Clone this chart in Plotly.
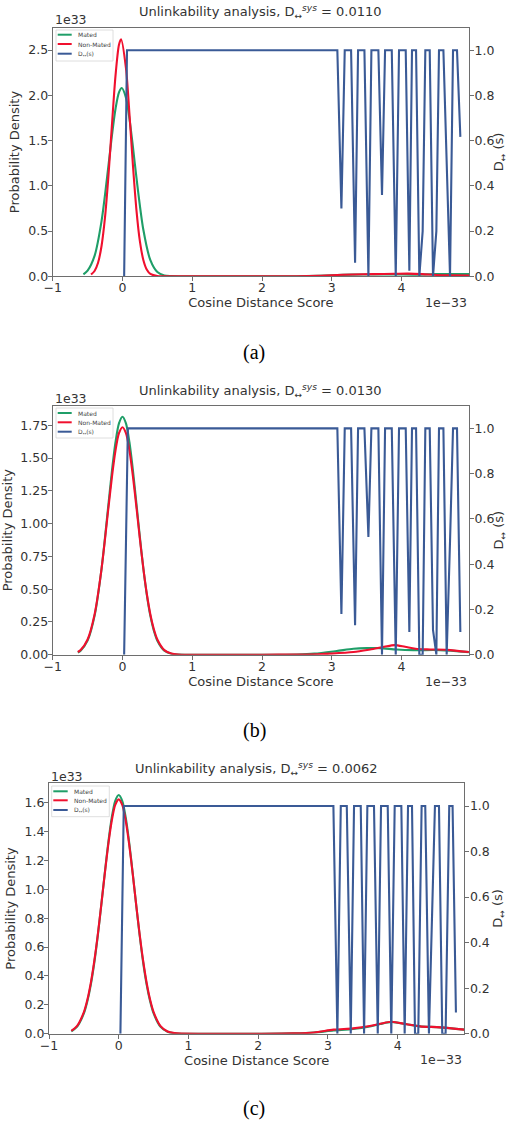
import plotly.graph_objects as go

W, H = 508, 1121

# ---------------- data (x in units of 1e-33, density in units of 1e33) ----------------
# Panel (a)  D_sys = 0.0110
mated_a_x = [-0.56, -0.5, -0.4, -0.3, -0.2, -0.15, -0.1, -0.05, -0.01, 0.05, 0.1, 0.15, 0.2, 0.3, 0.4, 0.5,
             0.6, 0.7, 0.9, 1.5, 2.0, 2.5, 2.8, 3.0, 3.3, 3.6, 3.9, 4.2, 4.5, 4.8, 4.967]
mated_a_y = [0.022, 0.062, 0.225, 0.609, 1.228, 1.562, 1.849, 2.032, 2.08, 1.974, 1.743, 1.431, 1.092, 0.511,
             0.178, 0.047, 0.009, 0.002, 0.0, 0.0, 0.0, 0.001, 0.006, 0.012, 0.018, 0.02, 0.02, 0.019, 0.024,
             0.026, 0.024]
nonmated_a_x = [-0.45, -0.4, -0.35, -0.3, -0.25, -0.2, -0.15, -0.1, -0.05, -0.02, 0.05, 0.1, 0.15, 0.2, 0.25,
                0.3, 0.35, 0.4, 0.5, 0.6, 1.5, 2.0, 2.5, 2.8, 3.0, 3.3, 3.6, 3.9, 4.1, 4.3, 4.5, 4.7, 4.967]
nonmated_a_y = [0.020, 0.059, 0.150, 0.335, 0.653, 1.12, 1.681, 2.215, 2.559, 2.62, 2.30, 1.795, 1.227, 0.735,
                0.386, 0.178, 0.072, 0.026, 0.002, 0.0, 0.0, 0.0, 0.001, 0.005, 0.012, 0.02, 0.024, 0.028, 0.03,
                0.024, 0.014, 0.01, 0.008]
dsys_a_x = [0.024, 0.065, 3.08, 3.138, 3.186, 3.277, 3.334, 3.377, 3.468, 3.525, 3.568, 3.668, 3.72, 3.764,
            3.86, 3.917, 3.964, 4.06, 4.112, 4.15, 4.208, 4.255, 4.303, 4.341, 4.404, 4.451, 4.499, 4.537, 4.6,
            4.695, 4.738, 4.795, 4.843]
dsys_a_y = [0, 1, 1, 0.30, 1, 1, 0.06, 1, 1, 0, 1, 1, 0.36, 1, 1, 0, 1, 1, 0.025, 1, 1, 0, 0.2, 1, 1, 0, 0.2,
            1, 1, 0, 1, 1, 0.617]

# Panel (b)  D_sys = 0.0130
mated_b_x = [-0.64, -0.6, -0.5, -0.4, -0.3, -0.2, -0.15, -0.1, -0.05, 0.0, 0.05, 0.1, 0.15, 0.2, 0.25, 0.3,
             0.35, 0.4, 0.45, 0.5, 0.6, 0.7, 0.8, 1.5, 2.0, 2.5, 2.75, 3.07, 3.31, 3.5, 3.69, 3.93, 4.17, 4.55,
             4.965]
mated_b_y = [0.017, 0.031, 0.107, 0.296, 0.655, 1.153, 1.406, 1.620, 1.764, 1.815, 1.764, 1.620, 1.406, 1.153,
             0.894, 0.655, 0.453, 0.296, 0.183, 0.107, 0.031, 0.007, 0.001, 0.0, 0.0, 0.002, 0.008, 0.028, 0.045,
             0.05, 0.05, 0.04, 0.035, 0.035, 0.02]
nonmated_b_x = [-0.64, -0.6, -0.5, -0.4, -0.3, -0.2, -0.15, -0.1, -0.05, 0.0, 0.05, 0.1, 0.15, 0.2, 0.25, 0.3,
                0.35, 0.4, 0.45, 0.5, 0.6, 0.7, 0.8, 1.5, 2.0, 2.5, 2.8, 2.98, 3.31, 3.55, 3.75, 3.9, 4.05, 4.2,
                4.41, 4.65, 4.965]
nonmated_b_y = [0.021, 0.035, 0.116, 0.307, 0.655, 1.126, 1.360, 1.557, 1.689, 1.735, 1.689, 1.557, 1.360,
                1.126, 0.882, 0.655, 0.461, 0.307, 0.194, 0.116, 0.035, 0.009, 0.002, 0.0, 0.0, 0.001, 0.004,
                0.008, 0.02, 0.04, 0.06, 0.073, 0.06, 0.045, 0.04, 0.037, 0.02]
dsys_b_x = [0.024, 0.077, 3.08, 3.138, 3.186, 3.277, 3.334, 3.377, 3.468, 3.525, 3.568, 3.668, 3.72, 3.764,
            3.86, 3.917, 3.964, 4.06, 4.112, 4.15, 4.208, 4.255, 4.303, 4.341, 4.404, 4.451, 4.499, 4.537, 4.6,
            4.647, 4.695, 4.738, 4.795, 4.843]
dsys_b_y = [0, 1, 1, 0.18, 1, 1, 0.13, 1, 1, 0.52, 1, 1, 0, 1, 1, 0, 1, 1, 0.1, 1, 1, 0, 0, 1, 1, 0.11, 0, 1,
            1, 0, 0.5, 1, 1, 0.1]

# Panel (c)  D_sys = 0.0062
mated_c_x = [-0.68, -0.6, -0.5, -0.45, -0.4, -0.35, -0.3, -0.25, -0.2, -0.15, -0.1, -0.05, 0.0, 0.05, 0.1,
             0.15, 0.2, 0.25, 0.3, 0.35, 0.4, 0.45, 0.5, 0.6, 0.7, 0.8, 0.9, 1.5, 2.0, 2.5, 2.8, 3.08, 3.36, 3.6,
             3.75, 3.91, 4.13, 4.32, 4.61, 4.955]
mated_c_y = [0.017, 0.047, 0.140, 0.224, 0.340, 0.493, 0.680, 0.892, 1.113, 1.324, 1.498, 1.613, 1.653, 1.613,
             1.498, 1.324, 1.113, 0.892, 0.680, 0.493, 0.340, 0.224, 0.140, 0.047, 0.013, 0.003, 0.0, 0.0, 0.0,
             0.002, 0.008, 0.022, 0.032, 0.05, 0.067, 0.082, 0.065, 0.051, 0.044, 0.028]
nonmated_c_x = [-0.68, -0.6, -0.5, -0.45, -0.4, -0.35, -0.3, -0.25, -0.2, -0.15, -0.1, -0.05, 0.0, 0.05, 0.1,
                0.15, 0.2, 0.25, 0.3, 0.35, 0.4, 0.45, 0.5, 0.6, 0.7, 0.8, 0.9, 1.5, 2.0, 2.5, 2.8, 3.08, 3.36,
                3.6, 3.75, 3.91, 4.13, 4.32, 4.61, 4.955]
nonmated_c_y = [0.020, 0.052, 0.150, 0.235, 0.353, 0.505, 0.688, 0.894, 1.108, 1.310, 1.475, 1.585, 1.623,
                1.585, 1.475, 1.310, 1.108, 0.894, 0.688, 0.505, 0.353, 0.235, 0.150, 0.052, 0.015, 0.004, 0.001,
                0.0, 0.0, 0.002, 0.008, 0.028, 0.037, 0.053, 0.069, 0.083, 0.065, 0.051, 0.044, 0.028]
dsys_c_x = [0.024, 0.072, 3.078, 3.135, 3.184, 3.27, 3.327, 3.374, 3.47, 3.518, 3.565, 3.66, 3.714, 3.761,
            3.857, 3.908, 3.957, 4.052, 4.1, 4.148, 4.205, 4.248, 4.295, 4.343, 4.395, 4.448, 4.491, 4.534,
            4.592, 4.639, 4.687, 4.739, 4.787, 4.835]
dsys_c_y = [0, 1, 1, 0, 1, 1, 0, 1, 1, 0, 1, 1, 0, 1, 1, 0, 1, 1, 0, 1, 1, 0, 0, 1, 1, 0, 0.5, 1, 1, 0, 0, 1,
            1, 0.093]

dsys_values = ["0.0110", "0.0130", "0.0062"]
captions = ["(a)", "(b)", "(c)"]
x_ticks = [-1, 0, 1, 2, 3, 4]
left_ticks = [[0, 0.5, 1.0, 1.5, 2.0, 2.5],
              [0, 0.25, 0.5, 0.75, 1.0, 1.25, 1.5, 1.75],
              [0, 0.2, 0.4, 0.6, 0.8, 1.0, 1.2, 1.4, 1.6]]
right_ticks = [0, 0.2, 0.4, 0.6, 0.8, 1.0]
series_names = ["Mated", "Non-Mated", "D<sub>↔</sub>(s)"]

# ---------------- styling / layout ----------------
GREEN = "#1f9e68"
RED = "#f0102e"
BLUE = "#3a5a96"
SPINE = "#6e6e6e"
TXT = "#333333"
FONT = "DejaVu Sans"


def fx(px):
    return px / W


def fy(py):
    return 1 - py / H


panels = [
    dict(mx=mated_a_x, my=mated_a_y, nx=nonmated_a_x, ny=nonmated_a_y, dx=dsys_a_x, dy=dsys_a_y,
         xpx=(52.7, 469.0), ypx=(276.3, 27.7), xr=[-1, 4.967], yr=[0, 2.747], fmt=".1f",
         title_py=12.5, cap_py=352, off_py=20, offx_py=302,
         leg=dict(box=(56, 30, 113, 61), rows=(34.7, 44.0, 53.7), lx=(57.7, 71.7), tx=75.5)),
    dict(mx=mated_b_x, my=mated_b_y, nx=nonmated_b_x, ny=nonmated_b_y, dx=dsys_b_x, dy=dsys_b_y,
         xpx=(52.7, 469.0), ypx=(654.7, 405.7), xr=[-1, 4.967], yr=[0, 1.899], fmt=".2f",
         title_py=390.5, cap_py=730, off_py=398.5, offx_py=681,
         leg=dict(box=(56, 408, 113, 438), rows=(413.0, 422.3, 431.7), lx=(57.7, 71.7), tx=75.5)),
    dict(mx=mated_c_x, my=mated_c_y, nx=nonmated_c_x, ny=nonmated_c_y, dx=dsys_c_x, dy=dsys_c_y,
         xpx=(49.0, 464.3), ypx=(1033.7, 783.3), xr=[-1, 4.955], yr=[0, 1.734], fmt=".1f",
         title_py=769, cap_py=1108, off_py=776.5, offx_py=1059.5,
         leg=dict(box=(51.7, 786, 109.3, 816.7), rows=(791.3, 800.3, 810.0), lx=(53.3, 67.7), tx=71.5)),
]

fig = go.Figure()
layout = dict(
    width=W, height=H, autosize=False,
    margin=dict(l=0, r=0, t=0, b=0, pad=0),
    paper_bgcolor="white", plot_bgcolor="white",
    font=dict(family=FONT, size=12, color=TXT),
    showlegend=False,
)
shapes = []
annotations = []

for i, p in enumerate(panels):
    xn = "x" if i == 0 else f"x{i + 1}"
    yl = f"y{2 * i + 1}" if i > 0 else "y"
    yr_ = f"y{2 * i + 2}"
    xkey = "xaxis" if i == 0 else f"xaxis{i + 1}"
    ylkey = "yaxis" if i == 0 else f"yaxis{2 * i + 1}"
    yrkey = f"yaxis{2 * i + 2}"

    fig.add_trace(go.Scatter(x=p["mx"], y=p["my"], mode="lines", name=series_names[0],
                             line=dict(color=GREEN, width=2.1, shape="spline", smoothing=0.8),
                             xaxis=xn, yaxis=yl))
    fig.add_trace(go.Scatter(x=p["nx"], y=p["ny"], mode="lines", name=series_names[1],
                             line=dict(color=RED, width=2.1, shape="spline", smoothing=0.8),
                             xaxis=xn, yaxis=yl))
    fig.add_trace(go.Scatter(x=p["dx"], y=p["dy"], mode="lines", name=series_names[2],
                             line=dict(color=BLUE, width=2.1),
                             xaxis=xn, yaxis=yr_))

    xd = [fx(p["xpx"][0]), fx(p["xpx"][1])]
    yd = [fy(p["ypx"][0]), fy(p["ypx"][1])]
    common = dict(showline=True, linecolor=SPINE, linewidth=1.2, ticks="outside", ticklen=4,
                  tickcolor=SPINE, tickwidth=1.1, showgrid=False, zeroline=False, automargin=False,
                  tickfont=dict(family=FONT, size=12.5, color=TXT))
    layout[xkey] = dict(domain=xd, anchor=yl, range=p["xr"], tickmode="array", tickvals=x_ticks,
                        mirror=True, ticklabelstandoff=-4,
                        title=dict(text="Cosine Distance Score", standoff=2,
                                   font=dict(family=FONT, size=13, color=TXT)),
                        **common)
    layout[ylkey] = dict(domain=yd, anchor=xn, range=p["yr"], tickmode="array", tickvals=left_ticks[i],
                         tickformat=p["fmt"], ticklabelstandoff=-3,
                         title=dict(text="Probability Density", standoff=5,
                                    font=dict(family=FONT, size=13, color=TXT)),
                         **common)
    layout[yrkey] = dict(domain=yd, anchor=xn, overlaying=yl, side="right", range=[0, 1.1],
                         tickmode="array", tickvals=right_ticks, tickformat=".1f", ticklabelstandoff=-2,
                         title=dict(text="D<sub>↔</sub> (s)", standoff=4,
                                    font=dict(family=FONT, size=13, color=TXT)),
                         **common)

    xc = (p["xpx"][0] + p["xpx"][1]) / 2
    annotations.append(dict(xref="paper", yref="paper", x=fx(xc), y=fy(p["title_py"]),
                            text=f"Unlinkability analysis, D<sub>↔</sub><sup><i>sys</i></sup> = {dsys_values[i]}",
                            showarrow=False, xanchor="center", yanchor="middle",
                            font=dict(family=FONT, size=13, color=TXT)))
    annotations.append(dict(xref="paper", yref="paper", x=fx(p["xpx"][0]), y=fy(p["off_py"]),
                            text="1e33", showarrow=False, xanchor="left", yanchor="middle",
                            font=dict(family=FONT, size=12.5, color=TXT)))
    annotations.append(dict(xref="paper", yref="paper", x=fx(p["xpx"][1]), y=fy(p["offx_py"]),
                            text="1e−33", showarrow=False, xanchor="right", yanchor="middle",
                            font=dict(family=FONT, size=12.5, color=TXT)))
    annotations.append(dict(xref="paper", yref="paper", x=fx(254), y=fy(p["cap_py"]),
                            text=captions[i], showarrow=False, xanchor="center", yanchor="middle",
                            font=dict(family="Liberation Serif", size=20, color="black")))

    # legend box (drawn manually, small matplotlib-like legend)
    lg = p["leg"]
    x0, y0, x1, y1 = lg["box"]
    shapes.append(dict(type="rect", xref="paper", yref="paper", x0=fx(x0), x1=fx(x1), y0=fy(y1), y1=fy(y0),
                       line=dict(color="#d5d5d5", width=0.8), fillcolor="rgba(255,255,255,0.85)",
                       layer="above"))
    for col, row, name in zip([GREEN, RED, BLUE], lg["rows"], series_names):
        shapes.append(dict(type="line", xref="paper", yref="paper", x0=fx(lg["lx"][0]), x1=fx(lg["lx"][1]),
                           y0=fy(row), y1=fy(row), line=dict(color=col, width=2), layer="above"))
        annotations.append(dict(xref="paper", yref="paper", x=fx(lg["tx"]), y=fy(row), text=name,
                                showarrow=False, xanchor="left", yanchor="middle",
                                font=dict(family=FONT, size=6, color="#444444")))

layout["shapes"] = shapes
layout["annotations"] = annotations
fig.update_layout(**layout)

fig.write_html("out.html", config={"displayModeBar": False},
               post_script="document.body.style.margin='0';document.body.style.padding='0';")
